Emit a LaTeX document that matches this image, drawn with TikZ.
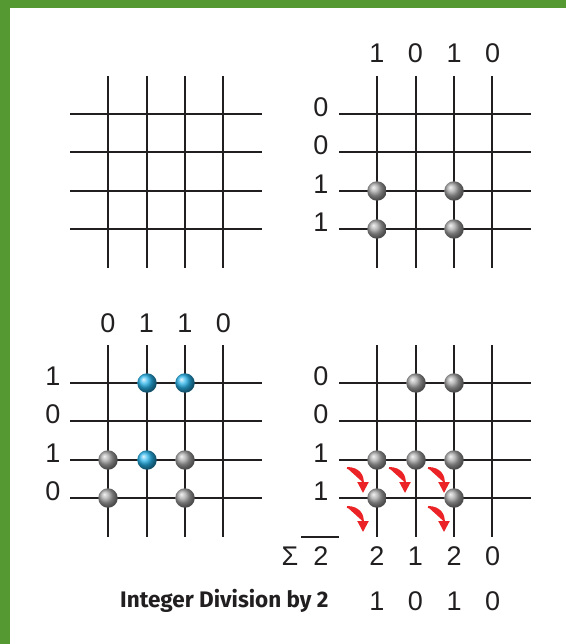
\documentclass[tikz,border=0pt]{standalone}
\usepackage{fontspec}
\setmainfont{Liberation Sans}
\newfontfamily\labelfont{Fira Sans}
\usetikzlibrary{arrows.meta}
\definecolor{frame}{RGB}{85,153,51}
\definecolor{gridc}{RGB}{34,31,32}
\definecolor{arrowred}{RGB}{236,35,38}
\definecolor{bluedot}{RGB}{40,180,235}
\tikzset{
  gline/.style={draw=gridc, line width=2pt},
  gdot/.style={circle, minimum size=19.5pt, inner sep=0pt, ball color=gray!70},
  bdot/.style={circle, minimum size=19.5pt, inner sep=0pt, ball color=bluedot},
  digit/.style={font=\fontsize{27}{27}\selectfont, inner sep=0pt, text=gridc},
  flow/.style={draw=arrowred, line width=2pt, -{Triangle[width=11pt,length=11pt]}, fill=arrowred},
}
\begin{document}
\begin{tikzpicture}[x=1pt,y=-1pt]
\useasboundingbox (0,0) rectangle (566,644);
\fill[white] (0,0) rectangle (566,644);
\fill[frame] (0,0) rectangle (566,8);
\fill[frame] (0,0) rectangle (10,644);
% grids
\foreach \ox/\oy in {0/0, 269/0, 0/269, 269/269}{
  \foreach \cx in {108,147,185,223}{
    \draw[gline] (\cx+\ox,76+\oy) -- (\cx+\ox,268+\oy);
  }
  \foreach \ry in {114,152,191,229}{
    \draw[gline] (70+\ox,\ry+\oy) -- (262+\ox,\ry+\oy);
  }
}
% top-right labels
\foreach \v [count=\i] in {1,0,1,0}{
  \node[digit] (trc\i) at ({377+38.5*(\i-1)},53) {\v};
}
\foreach \v [count=\i] in {0,0,1,1}{
  \node[digit] (trr\i) at (321,{107+38.4*(\i-1)}) {\v};
}
\node[gdot] (a1) at (377,191) {};
\node[gdot] (a2) at (454,191) {};
\node[gdot] (a3) at (377,229) {};
\node[gdot] (a4) at (454,229) {};
% bottom-left labels
\foreach \v [count=\i] in {0,1,1,0}{
  \node[digit] (blc\i) at ({108+38.5*(\i-1)},323) {\v};
}
\foreach \v [count=\i] in {1,0,1,0}{
  \node[digit] (blr\i) at (53,{376+38.4*(\i-1)}) {\v};
}
\node[bdot] (b1) at (147,383) {};
\node[bdot] (b2) at (185,383) {};
\node[bdot] (b3) at (147,460) {};
\node[gdot] (b4) at (108,460) {};
\node[gdot] (b5) at (185,460) {};
\node[gdot] (b6) at (108,498) {};
\node[gdot] (b7) at (185,498) {};
% bottom-right
\foreach \v [count=\i] in {0,0,1,1}{
  \node[digit] (brr\i) at (321,{376+38.4*(\i-1)}) {\v};
}
\node[gdot] (c1) at (416,383) {};
\node[gdot] (c2) at (454,383) {};
\node[gdot] (c3) at (377,460) {};
\node[gdot] (c4) at (416,460) {};
\node[gdot] (c5) at (454,460) {};
\node[gdot] (c6) at (377,498) {};
\node[gdot] (c7) at (454,498) {};
% red arrows
\foreach \sx/\sy in {347/468, 389/468, 428/468, 347/507, 428/507}{
  \coordinate (s) at (\sx,\sy);
  \coordinate (e) at (\sx+16,\sy+25);
  \draw[flow] (s) .. controls (\sx+12,\sy) and (\sx+16,\sy+8) .. (e);
}
% sums
\node[digit] (sig) at (290,556) {Σ};
\node[digit] (sum) at (321,556) {2};
\coordinate (ol1) at (301,537);
\coordinate (ol2) at (339,537);
\draw[gline] (ol1) -- (ol2);
\foreach \v [count=\i] in {2,1,2,0}{
  \node[digit] (sr\i) at ({377+38.5*(\i-1)},556) {\v};
}
\node[font=\labelfont\fontsize{22.5}{22.5}\selectfont\bfseries, inner sep=0pt, text=gridc, anchor=west] (idl) at (120,601) {Integer Division by 2};
\foreach \v [count=\i] in {1,0,1,0}{
  \node[digit] (ir\i) at ({377+38.5*(\i-1)},601) {\v};
}
\end{tikzpicture}
\end{document}
